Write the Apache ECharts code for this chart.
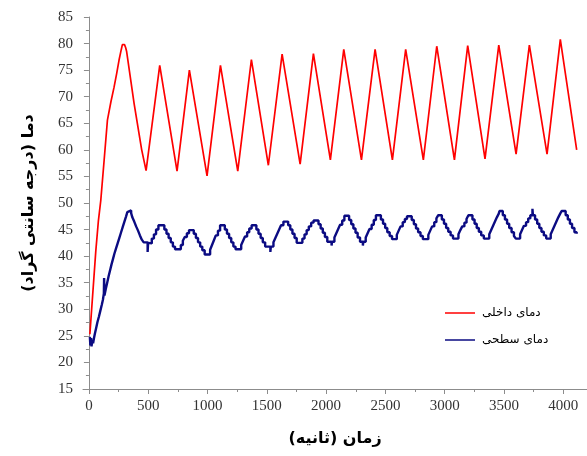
<!DOCTYPE html>
<html>
<head>
<meta charset="utf-8">
<script src="https://cdn.jsdelivr.net/npm/echarts@6/dist/echarts.min.js"></script>
<style>
  html, body { margin: 0; padding: 0; background: #fff; }
  #chart { width: 587px; height: 456px; }
</style>
</head>
<body>
<div id="chart"></div>
<script>
// [time (s), temperature (C)]
const internalTemp = [
  [8, 25.3], [58, 41.0], [80, 46.7], [100, 50.5], [128, 58.0], [156, 65.6], [185, 69.0],
  [212, 71.8], [235, 74.5], [254, 76.9], [272, 78.8], [282, 79.8], [300, 79.8], [310, 79.2],
  [318, 78.5], [330, 78.4], [381, 68.7], [445, 60.0], [482, 56.1], [597, 75.9], [743, 56.0],
  [847, 75.0], [996, 55.1], [1109, 75.9], [1255, 56.0], [1370, 77.0], [1513, 57.1],
  [1629, 78.0], [1781, 57.3], [1893, 78.1], [2036, 58.1], [2149, 78.9], [2298, 58.1],
  [2413, 78.9], [2559, 58.1], [2671, 78.9], [2820, 58.1], [2933, 79.5], [3082, 58.1],
  [3194, 79.6], [3340, 58.3], [3456, 79.7], [3602, 59.2], [3714, 79.7], [3863, 59.2],
  [3975, 80.8], [4113, 60.0]
]

const surfaceTemp = [
  [8, 24.8], [12, 23.2], [18, 24.6], [22, 23.0], [28, 24.2], [35, 23.6], [42, 24.5], [50, 25.4],
  [60, 26.4], [72, 27.6], [84, 28.6], [96, 29.7], [108, 30.8], [118, 31.8], [126, 33.0], [128, 35.9],
  [131, 32.6], [142, 33.8], [154, 35.0], [166, 36.2], [178, 37.3], [190, 38.4], [202, 39.4],
  [214, 40.4], [228, 41.4], [242, 42.4], [256, 43.4], [270, 44.4], [284, 45.4], [298, 46.4],
  [312, 47.4], [324, 48.3], [338, 48.6], [356, 48.1], [366, 47.3], [382, 46.5], [398, 45.6],
  [414, 44.8], [430, 43.9], [446, 43.1], [462, 42.6], [495, 40.8], [499, 42.5], [512, 42.4],
  [530, 43.3], [548, 44.1], [566, 45.0], [586, 45.8], [636, 45.0], [654, 44.2], [672, 43.4],
  [690, 42.6], [708, 41.8], [726, 41.3], [775, 42.1], [792, 42.9], [808, 43.6], [826, 44.3],
  [844, 44.9], [884, 44.2], [902, 43.4], [920, 42.6], [938, 41.8], [956, 41.1], [976, 40.3],
  [1022, 41.2], [1038, 42.1], [1054, 43.0], [1070, 43.9], [1088, 44.8], [1106, 45.8],
  [1146, 45.0], [1164, 44.2], [1182, 43.4], [1200, 42.6], [1218, 41.8], [1236, 41.3],
  [1284, 42.1], [1300, 42.9], [1316, 43.7], [1334, 44.5], [1352, 45.2], [1372, 45.8],
  [1412, 45.0], [1430, 44.2], [1448, 43.4], [1466, 42.6], [1486, 41.8], [1530, 40.8],
  [1534, 41.8], [1556, 42.6], [1572, 43.4], [1588, 44.2], [1604, 45.0], [1620, 45.8],
  [1640, 46.5], [1680, 45.8], [1698, 45.0], [1716, 44.2], [1734, 43.4], [1752, 42.5],
  [1800, 43.3], [1818, 44.1], [1836, 44.9], [1854, 45.6], [1874, 46.3], [1894, 46.7],
  [1936, 46.0], [1954, 45.2], [1972, 44.4], [1990, 43.6], [2010, 42.7], [2046, 42.0],
  [2050, 42.7], [2070, 43.5], [2086, 44.3], [2102, 45.1], [2118, 45.9], [2136, 46.7],
  [2154, 47.6], [2194, 46.8], [2212, 46.0], [2230, 45.2], [2248, 44.4], [2266, 43.5],
  [2286, 42.7], [2310, 42.0], [2314, 42.7], [2334, 43.5], [2350, 44.3], [2366, 45.1],
  [2384, 45.9], [2402, 46.8], [2420, 47.7], [2462, 46.9], [2480, 46.1], [2498, 45.3],
  [2516, 44.5], [2536, 43.8], [2556, 43.2], [2596, 44.0], [2612, 44.8], [2628, 45.6],
  [2646, 46.4], [2664, 47.0], [2682, 47.5], [2722, 46.8], [2740, 46.0], [2758, 45.2],
  [2776, 44.5], [2796, 43.8], [2816, 43.2], [2862, 44.0], [2878, 44.8], [2894, 45.6],
  [2912, 46.4], [2930, 47.1], [2946, 47.7], [2976, 46.9], [2994, 46.1], [3012, 45.3],
  [3030, 44.6], [3050, 43.9], [3070, 43.3], [3116, 44.1], [3132, 44.9], [3148, 45.6],
  [3166, 46.3], [3184, 47.0], [3200, 47.7], [3234, 46.9], [3252, 46.1], [3270, 45.3],
  [3288, 44.6], [3308, 43.9], [3330, 43.3], [3376, 44.1], [3392, 44.9], [3408, 45.7],
  [3424, 46.5], [3440, 47.3], [3456, 48.0], [3462, 48.5], [3490, 47.7], [3508, 46.9],
  [3526, 46.1], [3544, 45.3], [3564, 44.5], [3584, 43.8], [3600, 43.3], [3636, 44.1],
  [3652, 44.9], [3668, 45.7], [3686, 46.4], [3704, 47.1], [3722, 47.7], [3740, 48.9],
  [3744, 47.7], [3762, 46.9], [3780, 46.1], [3798, 45.3], [3816, 44.6], [3836, 43.9],
  [3856, 43.3], [3894, 44.1], [3910, 44.9], [3926, 45.7], [3942, 46.5], [3958, 47.3],
  [3974, 48.0], [3986, 48.5], [4020, 47.7], [4038, 46.9], [4056, 46.1], [4074, 45.3],
  [4094, 44.5], [4113, 44.2]
]

const xMajorTicks = [0, 500, 1000, 1500, 2000, 2500, 3000, 3500, 4000]
const xMinorTicks = [250, 750, 1250, 1750, 2250, 2750, 3250, 3750]
const seriesNames = ['دمای داخلی', 'دمای سطحی']
const xTitle = '\u200Fزمان (ثانیه)\u200F'
const yTitle = '\u200Fدما (درجه سانتی گراد)\u200F'

const axisGray = '#8c8c8c'
const tickFont = { fontFamily: 'Liberation Serif', fontSize: 15, color: '#333' }

const chart = echarts.init(document.getElementById('chart'))
chart.setOption({
  animation: false,
  grid: { left: 83, right: 0, top: 17, bottom: 67 },
  legend: {
    data: seriesNames,
    orient: 'vertical',
    left: 440,
    top: 302,
    icon: 'rect',
    itemWidth: 30,
    itemHeight: 1.5,
    itemGap: 15,
    textStyle: { fontFamily: 'DejaVu Sans', fontSize: 12, color: '#000', padding: [0, 0, 0, 2] }
  },
  xAxis: [
    {
      type: 'value',
      min: -50,
      max: 4200,
      name: xTitle,
      nameLocation: 'middle',
      nameGap: 42,
      nameTextStyle: { fontFamily: 'DejaVu Sans', fontWeight: 'bold', fontSize: 16, color: '#000' },
      axisLine: { lineStyle: { color: axisGray } },
      axisTick: { customValues: xMajorTicks, length: 5, lineStyle: { color: axisGray } },
      axisLabel: { customValues: xMajorTicks, margin: 10, formatter: v => String(v), ...tickFont },
      splitLine: { show: false }
    },
    {
      type: 'value',
      min: -50,
      max: 4200,
      position: 'bottom',
      offset: 0,
      axisLine: { show: false },
      axisTick: { customValues: xMinorTicks, length: 3, lineStyle: { color: axisGray } },
      axisLabel: { show: false },
      splitLine: { show: false }
    }
  ],
  yAxis: {
    type: 'value',
    min: 15,
    max: 85,
    interval: 5,
    name: yTitle,
    nameLocation: 'middle',
    nameRotate: 90,
    nameGap: 46,
    nameTextStyle: { fontFamily: 'DejaVu Sans', fontWeight: 'bold', fontSize: 16, color: '#000' },
    axisLine: { show: true, lineStyle: { color: axisGray } },
    axisTick: { show: true, length: 5, lineStyle: { color: axisGray } },
    minorTick: { show: true, splitNumber: 2, length: 3, lineStyle: { color: axisGray } },
    axisLabel: { margin: 10, ...tickFont },
    splitLine: { show: false }
  },
  series: [
    {
      name: seriesNames[0],
      type: 'line',
      symbol: 'none',
      data: internalTemp,
      lineStyle: { color: '#ff0000', width: 1.7 },
      itemStyle: { color: '#ff0000' }
    },
    {
      name: seriesNames[1],
      type: 'line',
      step: 'end',
      symbol: 'none',
      data: surfaceTemp,
      lineStyle: { color: '#0b0b82', width: 2.4 },
      itemStyle: { color: '#0b0b82' }
    }
  ]
})
</script>
</body>
</html>
